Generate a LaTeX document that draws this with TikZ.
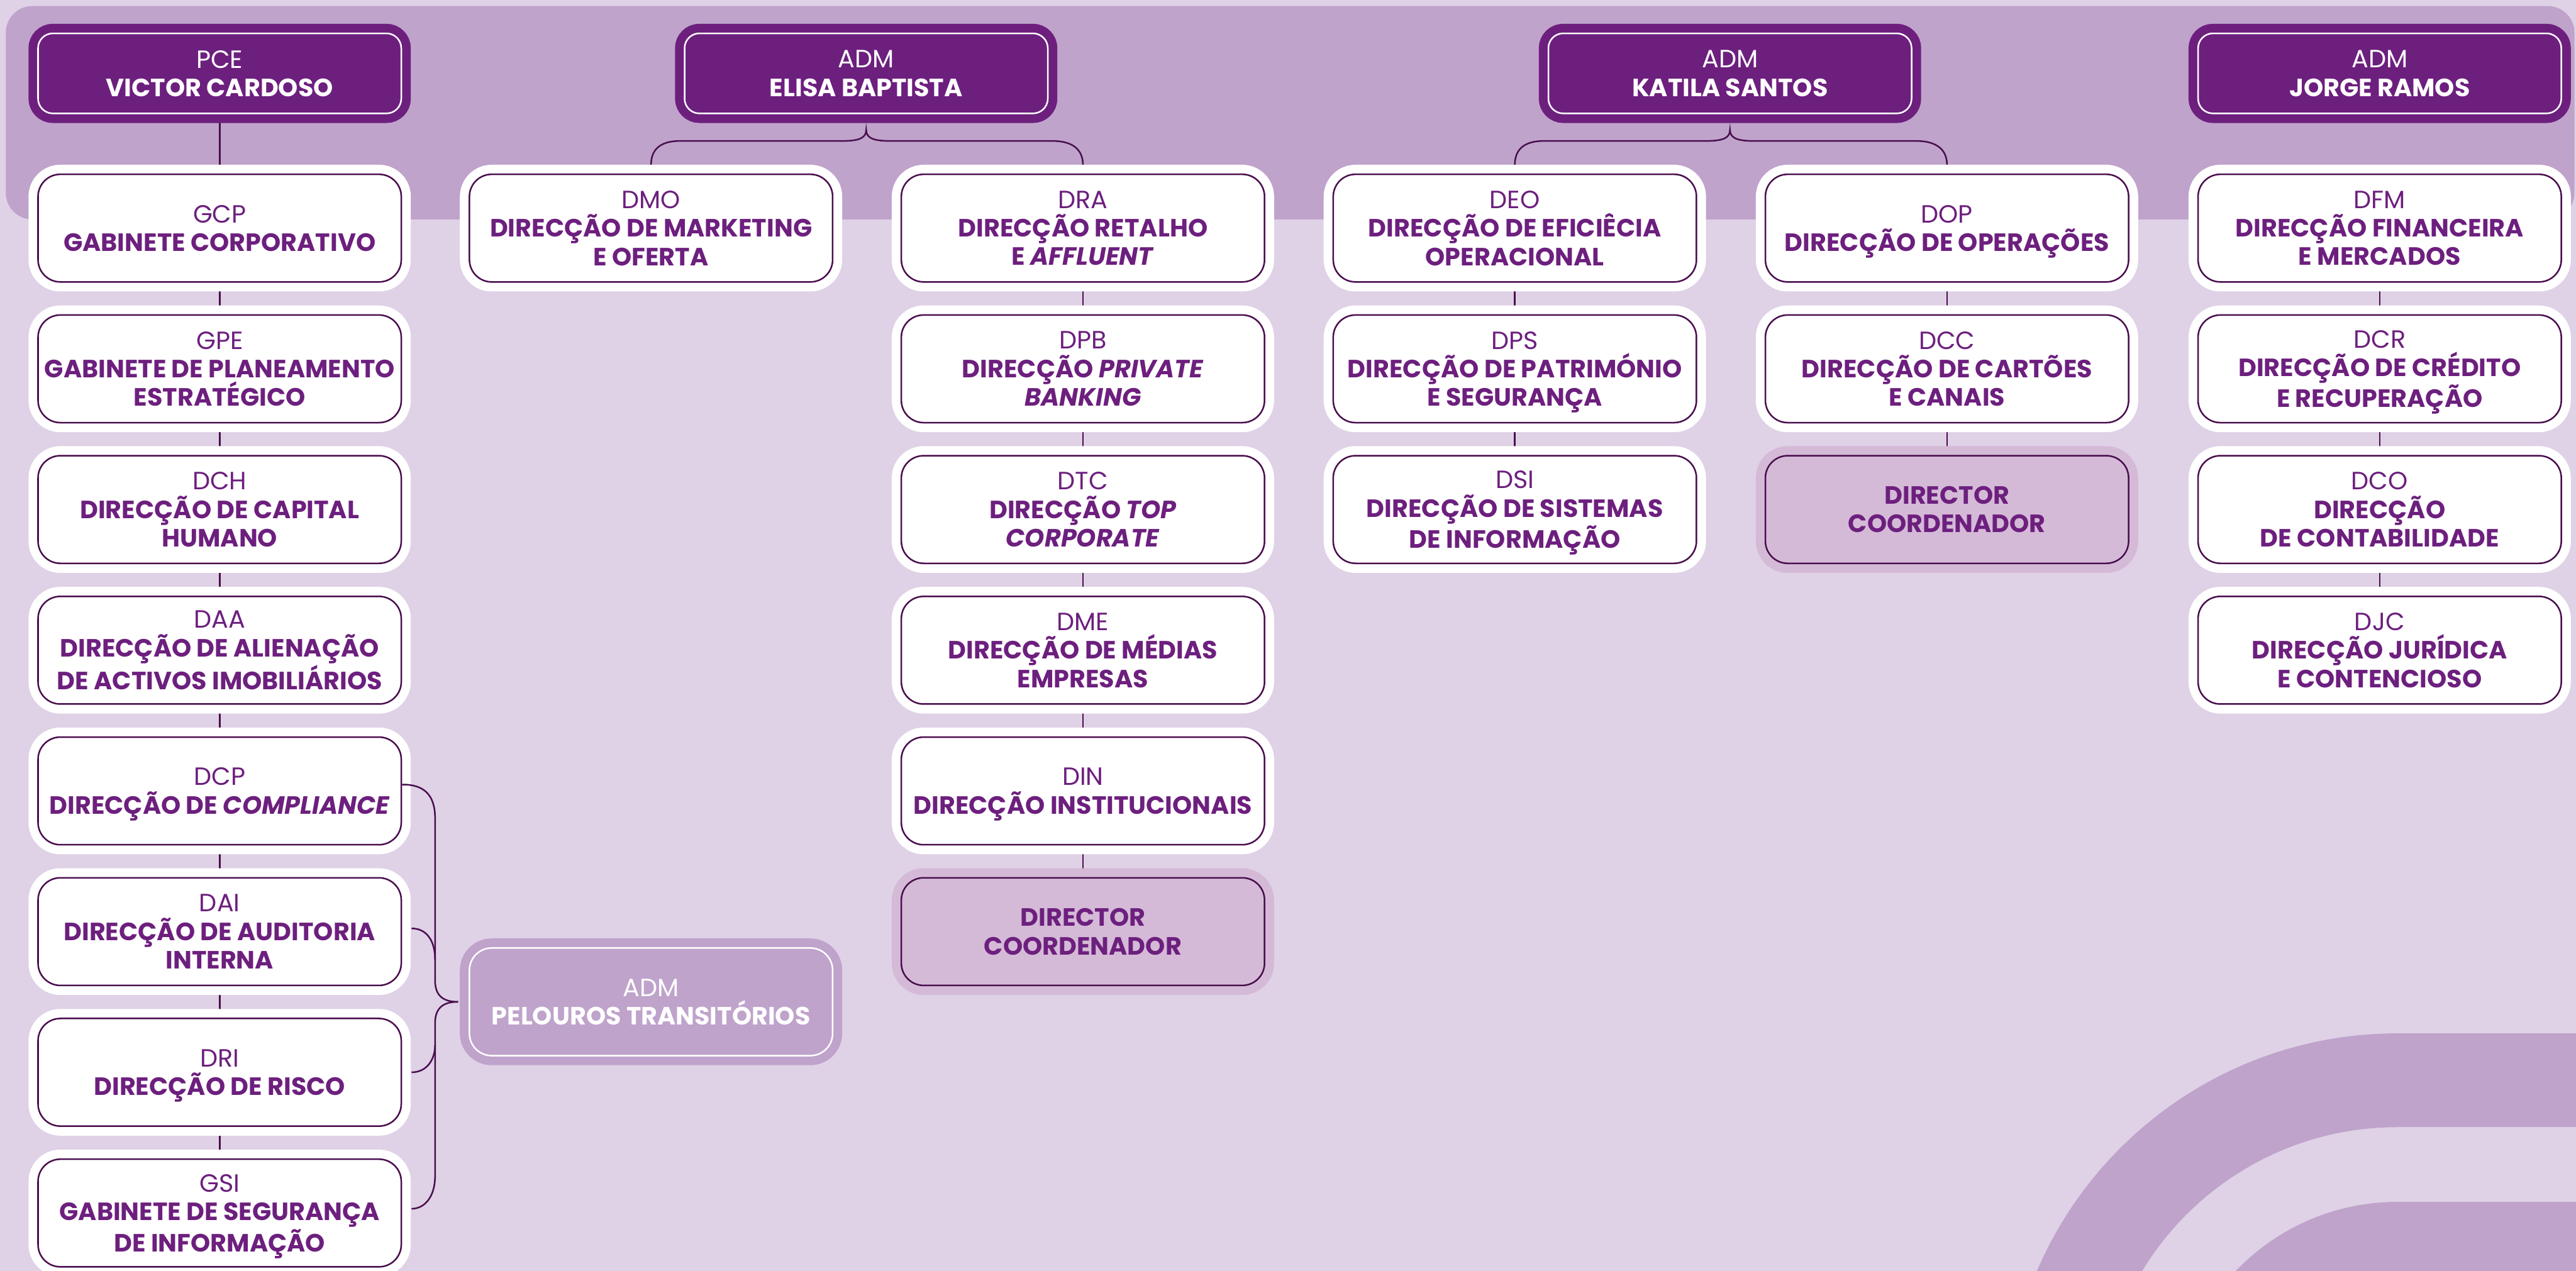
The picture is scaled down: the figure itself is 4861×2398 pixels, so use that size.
\documentclass[tikz,border=0pt]{standalone}
\usepackage{fontspec}
\setmainfont{Poppins}
\usetikzlibrary{calc}

\definecolor{paper}{HTML}{DFD1E6}
\definecolor{bandC}{HTML}{BFA3CB}
\definecolor{deep}{HTML}{6D1F7E}
\definecolor{lineC}{HTML}{4A0E4E}
\definecolor{soft}{HTML}{D4BAD7}

\newcommand\boxfont{\fontsize{13.4pt}{15.3pt}\selectfont\bfseries}
\newcommand\A[1]{{\mdseries #1}}

\pgfdeclarelayer{bg}
\pgfdeclarelayer{conn}
\pgfsetlayers{bg,conn,main}

\tikzset{
  unit/.style={rounded corners=0.42cm, minimum width=6.85cm, minimum height=2.03cm,
    align=center, inner sep=0pt, line width=0.85pt, font=\boxfont, text depth=0pt},
  dirbox/.style={unit, draw=lineC, fill=white, text=deep,
    preaction={draw=white, line width=0.36cm}},
  leadbox/.style={unit, draw=white, fill=deep, text=white, minimum height=1.51cm,
    rounded corners=0.28cm, preaction={draw=deep, line width=0.36cm}},
  coordbox/.style={unit, draw=lineC, fill=soft, text=deep,
    preaction={draw=soft, line width=0.36cm}},
  pelbox/.style={unit, draw=white, fill=bandC, text=white,
    preaction={draw=bandC, line width=0.36cm}},
  conn/.style={draw=lineC, line width=0.85pt},
}

\begin{document}
\begin{tikzpicture}[x=0.01cm, y=-0.01cm]
\useasboundingbox (0,0) rectangle (4861,2398);

% background, header band and decorative arcs
\begin{pgfonlayer}{bg}
  \fill[paper] (0,0) rectangle (4861,2398);
  \fill[bandC, rounded corners=0.5cm] (11,11.5) rectangle (4858,414);
  \begin{scope}
    \clip (3500,1900) rectangle (4524,2398);
    \fill[bandC, even odd rule] (4524,2690) circle[radius=740] (4524,2690) circle[radius=563];
    \fill[bandC, even odd rule] (4524,2690) circle[radius=422] (4524,2690) circle[radius=245];
  \end{scope}
  \fill[bandC] (4523,1950) rectangle (4861,2127);
  \fill[bandC] (4523,2268) rectangle (4861,2398);
\end{pgfonlayer}

% board members
\node[leadbox] (pce)    at (414.5,138.5)  {\A{PCE}\\VICTOR CARDOSO};
\node[leadbox] (elisa)  at (1634.5,138.5) {\A{ADM}\\ELISA BAPTISTA};
\node[leadbox] (katila) at (3264.5,138.5) {\A{ADM}\\KATILA SANTOS};
\node[leadbox] (jorge)  at (4490.5,138.5) {\A{ADM}\\JORGE RAMOS};

% column 1
\node[dirbox] (gcp) at (414.5,430.5) {\A{GCP}\\GABINETE CORPORATIVO};
\node[dirbox] (gpe) at (414.5,696)   {\A{GPE}\\GABINETE DE PLANEAMENTO\\ESTRATÉGICO};
\node[dirbox] (dch) at (414.5,961.5) {\A{DCH}\\DIRECÇÃO DE CAPITAL\\HUMANO};
\node[dirbox] (daa) at (414.5,1227)  {\A{DAA}\\DIRECÇÃO DE ALIENAÇÃO\\DE ACTIVOS IMOBILIÁRIOS};
\node[dirbox] (dcp) at (414.5,1492.5){\A{DCP}\\DIRECÇÃO DE \textit{COMPLIANCE}};
\node[dirbox] (dai) at (414.5,1758)  {\A{DAI}\\DIRECÇÃO DE AUDITORIA\\INTERNA};
\node[dirbox] (dri) at (414.5,2023.5){\A{DRI}\\DIRECÇÃO DE RISCO};
\node[dirbox] (gsi) at (414.5,2289)  {\A{GSI}\\GABINETE DE SEGURANÇA\\DE INFORMAÇÃO};

% column 2
\node[dirbox] (dmo) at (1228.5,430.5) {\A{DMO}\\DIRECÇÃO DE MARKETING\\E OFERTA};
\node[pelbox] (pel) at (1228.5,1890.5) {\A{ADM}\\PELOUROS TRANSITÓRIOS};

% column 3
\node[dirbox] (dra) at (2043.5,430.5) {\A{DRA}\\DIRECÇÃO RETALHO\\E \textit{AFFLUENT}};
\node[dirbox] (dpb) at (2043.5,696)   {\A{DPB}\\DIRECÇÃO \textit{PRIVATE}\\\textit{BANKING}};
\node[dirbox] (dtc) at (2043.5,961.5) {\A{DTC}\\DIRECÇÃO \textit{TOP}\\\textit{CORPORATE}};
\node[dirbox] (dme) at (2043.5,1227)  {\A{DME}\\DIRECÇÃO DE MÉDIAS\\EMPRESAS};
\node[dirbox] (din) at (2043.5,1492.5){\A{DIN}\\DIRECÇÃO INSTITUCIONAIS};
\node[coordbox] (dcA) at (2043.5,1758) {DIRECTOR\\COORDENADOR};

% column 4
\node[dirbox] (deo) at (2858.5,430.5) {\A{DEO}\\DIRECÇÃO DE EFICIÊCIA\\OPERACIONAL};
\node[dirbox] (dps) at (2858.5,696)   {\A{DPS}\\DIRECÇÃO DE PATRIMÓNIO\\E SEGURANÇA};
\node[dirbox] (dsi) at (2858.5,961.5) {\A{DSI}\\DIRECÇÃO DE SISTEMAS\\DE INFORMAÇÃO};

% column 5
\node[dirbox] (dop) at (3674,430.5) {\A{DOP}\\DIRECÇÃO DE OPERAÇÕES};
\node[dirbox] (dcc) at (3674,696)   {\A{DCC}\\DIRECÇÃO DE CARTÕES\\E CANAIS};
\node[coordbox] (dcB) at (3674,961.5) {DIRECTOR\\COORDENADOR};

% column 6
\node[dirbox] (dfm) at (4490.5,430.5) {\A{DFM}\\DIRECÇÃO FINANCEIRA\\E MERCADOS};
\node[dirbox] (dcr) at (4490.5,696)   {\A{DCR}\\DIRECÇÃO DE CRÉDITO\\E RECUPERAÇÃO};
\node[dirbox] (dco) at (4490.5,961.5) {\A{DCO}\\DIRECÇÃO\\DE CONTABILIDADE};
\node[dirbox] (djc) at (4490.5,1227)  {\A{DJC}\\DIRECÇÃO JURÍDICA\\E CONTENCIOSO};

% vertical links and braces, behind the boxes
\begin{pgfonlayer}{conn}
  \foreach \a/\b in {pce/gcp, gcp/gpe, gpe/dch, dch/daa, daa/dcp, dcp/dai, dai/dri, dri/gsi,
                     dra/dpb, dpb/dtc, dtc/dme, dme/din, din/dcA,
                     deo/dps, dps/dsi, dop/dcc, dcc/dcB,
                     dfm/dcr, dcr/dco, dco/djc}
    \draw[conn] (\a.south) -- (\b.north);

  \coordinate (eTip) at (1634.5,245);
  \draw[conn] (dmo.north) -- (1228.5,311)
    .. controls (1228.5,283) and (1245,266) .. (1283,266) -- (1590,266)
    .. controls (1622,266) and (1634.5,260) .. (eTip)
    .. controls (1634.5,260) and (1647,266) .. (1679,266) -- (1986,266)
    .. controls (2025,266) and (2043.5,283) .. (2043.5,311) -- (dra.north);

  \coordinate (kTip) at (3264.5,245);
  \draw[conn] (deo.north) -- (2858.5,311)
    .. controls (2858.5,283) and (2875,266) .. (2913,266) -- (3220,266)
    .. controls (3252,266) and (3264.5,260) .. (kTip)
    .. controls (3264.5,260) and (3277,266) .. (3309,266) -- (3616,266)
    .. controls (3655,266) and (3674,283) .. (3674,311) -- (dcB.north |- dop.north);
\end{pgfonlayer}

% bracket gathering four units into the transitional portfolio
\coordinate (pTip) at ($(pel.west)+(-20,0)$);
\draw[conn] ($(dcp.east)+(0,-12)$)
  .. controls (800,1480) and (821,1500) .. (821,1544) -- (821,1850)
  .. controls (821,1878) and (835,1890.5) .. (pTip);
\draw[conn] (pTip)
  .. controls (835,1890.5) and (821,1903) .. (821,1931) -- (821,2219)
  .. controls (821,2260) and (800,2281) .. ($(gsi.east)+(18,-8)$);
\draw[conn] ($(dai.east)+(18,-6)$)
  .. controls (805,1752) and (821,1775) .. (821,1811);
\draw[conn] ($(dri.east)+(18,0)$)
  .. controls (805,2023.5) and (821,2000) .. (821,1972);

\end{tikzpicture}
\end{document}
